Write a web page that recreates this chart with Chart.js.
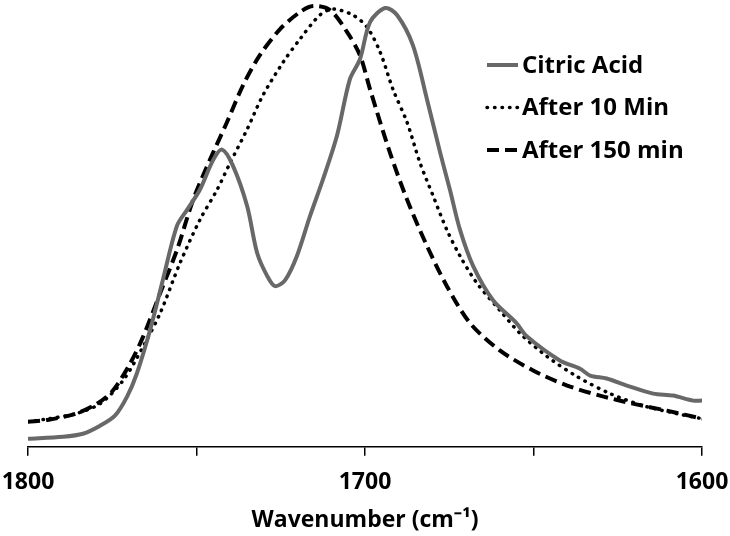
<!DOCTYPE html>
<html>
<head>
<meta charset="utf-8">
<script src="https://cdn.jsdelivr.net/npm/chart.js@4.4.0/dist/chart.umd.min.js"></script>
<style>
  html, body { margin: 0; padding: 0; background: #fff; }
  #wrap { width: 730px; height: 536px; }
</style>
</head>
<body>
<div id="wrap"><canvas id="grafico"></canvas></div>
<script>
// Wavenumber (cm-1) and absorbance (arbitrary units)
const citricX = [1800, 1789.6, 1783.7, 1778.6, 1774.2, 1770.6, 1767.7, 1763.8, 1760, 1755.8, 1752.8, 1749, 1745, 1742.4, 1739.2, 1735, 1732, 1729, 1726.7, 1723.7, 1720.2, 1716.3, 1712.5, 1708.3, 1704.5, 1701.5, 1698.5, 1694, 1690.5, 1685.8, 1681.6, 1677.7, 1674.8, 1671.8, 1667.9, 1662, 1655, 1652, 1642.2, 1636.3, 1633.2, 1628.3, 1622.3, 1614.5, 1608.6, 1602.6, 1600];
const citricY = [8, 10, 13, 21, 31, 50, 73, 116, 166, 220, 236, 256, 286, 296, 280, 240, 193, 170, 160, 166, 190, 230, 266, 310, 366, 386, 423, 437, 430, 400, 346, 293, 256, 216, 180, 146, 123, 110, 86, 78, 71, 68, 61, 53, 51, 46, 46];

const min10X = [1800, 1793.8, 1785.8, 1778.6, 1771.8, 1765.8, 1760.8, 1754.9, 1749, 1743.9, 1740, 1735, 1730.3, 1724.3, 1719.3, 1713.4, 1709.5, 1703.6, 1699.4, 1695.5, 1691.7, 1687.5, 1683.7, 1679.8, 1675.7, 1671.8, 1666.8, 1660, 1654, 1646, 1637.1, 1627.3, 1617.5, 1607.4, 1600];
const min10Y = [25, 28, 33, 43, 66, 100, 133, 183, 226, 256, 283, 316, 350, 383, 406, 430, 436, 430, 418, 393, 356, 323, 283, 250, 216, 190, 163, 136, 113, 90, 70, 53, 41, 33, 28];

const min150X = [1800, 1793.8, 1785.8, 1779.5, 1774.8, 1769.7, 1765.8, 1760.8, 1755.8, 1751, 1746, 1741, 1736.2, 1731.2, 1725.2, 1719.3, 1715.4, 1710.4, 1705.3, 1701.5, 1698.5, 1692.6, 1687.5, 1681.6, 1675.7, 1668.8, 1660, 1650.1, 1640, 1630.3, 1620.5, 1610.4, 1600];
const min150Y = [25, 27, 33, 43, 56, 83, 110, 153, 196, 246, 286, 323, 360, 390, 416, 433, 439, 435, 413, 390, 356, 293, 246, 200, 160, 123, 96, 76, 61, 51, 43, 36, 28];

const seriesNames = ["Citric Acid", "After 10 Min", "After 150 min"];
const xTicks = [1800, 1700, 1600];
const xTickMarks = [1800, 1750, 1700, 1650, 1600];

function pontos(xs, ys) {
  return xs.map((x, i) => ({ x: x, y: ys[i] }));
}

// legend drawn inside the plot area, top right
const legendaInterna = {
  id: "legendaInterna",
  afterDraw(chart) {
    const ctx = chart.ctx;
    const area = chart.chartArea;
    const x0 = area.left + 459;
    const y0 = area.top + 65;
    const passo = 42.5;
    ctx.save();
    chart.data.datasets.forEach((ds, i) => {
      const y = y0 + i * passo;
      ctx.beginPath();
      ctx.strokeStyle = ds.borderColor;
      ctx.lineWidth = ds.borderWidth;
      ctx.lineCap = ds.borderCapStyle || "butt";
      ctx.setLineDash(ds.borderDash || []);
      ctx.moveTo(x0, y);
      ctx.lineTo(x0 + 31, y);
      ctx.stroke();
      ctx.setLineDash([]);
      ctx.fillStyle = "#000";
      ctx.font = "bold 24px 'Open Sans'";
      ctx.textBaseline = "middle";
      ctx.fillText(ds.label, x0 + 35, y + 1);
    });
    ctx.restore();
  },
};

const ctx = document.getElementById("grafico").getContext("2d");
new Chart(ctx, {
  type: "line",
  data: {
    datasets: [
      {
        label: seriesNames[0],
        data: pontos(citricX, citricY),
        borderColor: "#686868",
        borderWidth: 4,
        pointRadius: 0,
        tension: 0.3,
      },
      {
        label: seriesNames[1],
        data: pontos(min10X, min10Y),
        borderColor: "#000000",
        borderWidth: 3.5,
        borderDash: [0.5, 7],
        borderCapStyle: "round",
        pointRadius: 0,
        tension: 0.3,
      },
      {
        label: seriesNames[2],
        data: pontos(min150X, min150Y),
        borderColor: "#000000",
        borderWidth: 4,
        borderDash: [12, 6],
        pointRadius: 0,
        tension: 0.3,
      },
    ],
  },
  options: {
    responsive: true,
    maintainAspectRatio: false,
    animation: false,
    layout: { padding: { left: 28, right: 28, top: 0, bottom: 2 } },
    plugins: {
      legend: { display: false },
      tooltip: { enabled: false },
    },
    scales: {
      x: {
        type: "linear",
        reverse: true,
        min: 1600,
        max: 1800,
        afterBuildTicks: (axis) => {
          axis.ticks = xTickMarks.map((v) => ({ value: v }));
        },
        afterFit: (scale) => {
          scale.paddingLeft = 0;
          scale.paddingRight = 0;
        },
        ticks: {
          autoSkip: false,
          maxRotation: 0,
          color: "#000",
          padding: 13,
          font: { family: "'Open Sans'", size: 23, weight: "bold" },
          callback: (v) => (xTicks.includes(v) ? String(v) : ""),
        },
        grid: {
          drawOnChartArea: false,
          drawTicks: true,
          tickLength: 9,
          color: "#000",
          lineWidth: 1.5,
        },
        border: { display: true, color: "#000", width: 1.5 },
        title: {
          display: true,
          text: "Wavenumber (cm⁻¹)",
          color: "#000",
          font: { family: "'Open Sans'", size: 23, weight: "bold" },
          padding: { top: -3, bottom: 0 },
        },
      },
      y: {
        display: false,
        min: 0,
        max: 445,
      },
    },
  },
  plugins: [legendaInterna],
});
</script>
</body>
</html>
